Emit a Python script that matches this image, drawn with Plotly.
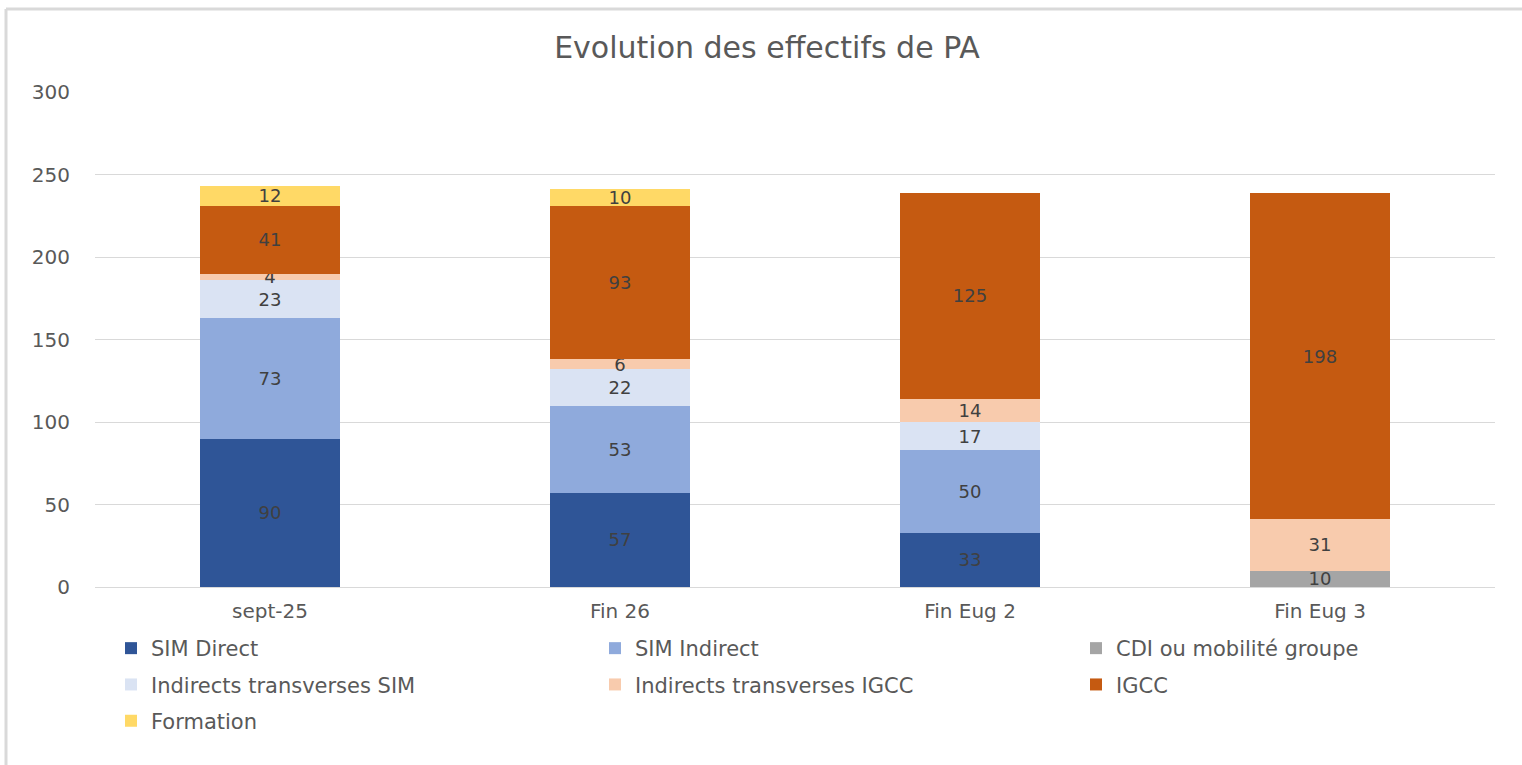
import plotly.graph_objects as go

categories = ["sept-25", "Fin 26", "Fin Eug 2", "Fin Eug 3"]

sim_direct = [90, 57, 33, 0]
sim_indirect = [73, 53, 50, 0]
cdi_mobilite = [0, 0, 0, 10]
indirects_sim = [23, 22, 17, 0]
indirects_igcc = [4, 6, 14, 31]
igcc = [41, 93, 125, 198]
formation = [12, 10, 0, 0]

series_names = [
    "SIM Direct", "SIM Indirect", "CDI ou mobilité groupe",
    "Indirects transverses SIM", "Indirects transverses IGCC", "IGCC", "Formation",
]
series_values = [sim_direct, sim_indirect, cdi_mobilite, indirects_sim,
                 indirects_igcc, igcc, formation]
series_colors = ["#2F5597", "#8FAADC", "#A5A5A5", "#DAE3F3", "#F8CBAD", "#C55A11", "#FFD966"]
# legend columns (reference shows a 3-column legend)
legend_ids = ["legend", "legend2", "legend3", "legend", "legend2", "legend3", "legend"]

y_ticks = [0, 50, 100, 150, 200, 250, 300]

FONT = "DejaVu Sans"
TXT = "#595959"

fig = go.Figure()
for i, (name, vals, col, lg) in enumerate(zip(series_names, series_values, series_colors, legend_ids)):
    fig.add_trace(go.Bar(
        name=name, x=categories, y=vals,
        marker=dict(color=col, line=dict(width=0)),
        text=[str(v) if v else "" for v in vals],
        textposition="inside", insidetextanchor="middle",
        constraintext="none", textangle=0,
        textfont=dict(family=FONT, size=18, color="#404040"),
        legend=lg, legendgroup=f"g{i}",
    ))

# plot-area geometry in pixels (for frame shapes in paper coords)
W, H = 1522, 765
L, R, T, B = 95, 27, 92, 178
pw, ph = W - L - R, H - T - B

def px_x(x):
    return (x - L) / pw

def px_y(y):
    return (H - B - y) / ph

legend_common = dict(
    orientation="v", xanchor="left", yanchor="top",
    font=dict(family=FONT, size=21, color=TXT),
    traceorder="grouped", tracegroupgap=6,
    bgcolor="rgba(0,0,0,0)", itemclick=False, itemdoubleclick=False,
)
legend_top = 628

fig.update_layout(
    width=W, height=H,
    barmode="stack", bargap=0.6,
    plot_bgcolor="white", paper_bgcolor="white",
    margin=dict(l=L, r=R, t=T, b=B),
    title=dict(text="Evolution des effectifs de PA", x=767 / W, xanchor="center",
               y=1 - 47 / H, yanchor="middle", xref="container", yref="container",
               font=dict(family=FONT, size=30, color=TXT)),
    xaxis=dict(showgrid=False, showline=False, ticks="",
               tickfont=dict(family=FONT, size=20, color=TXT),
               ticklabelstandoff=10),
    yaxis=dict(range=[0, 300], tickvals=y_ticks, showgrid=True, gridcolor="#D9D9D9",
               gridwidth=1, zeroline=True, zerolinecolor="#D9D9D9", zerolinewidth=1,
               showline=False, ticks="",
               tickfont=dict(family=FONT, size=20, color=TXT),
               ticklabelstandoff=24),
    legend=dict(x=px_x(111), y=px_y(legend_top), **legend_common),
    legend2=dict(x=px_x(595), y=px_y(legend_top), **legend_common),
    legend3=dict(x=px_x(1076), y=px_y(legend_top), **legend_common),
    showlegend=True,
    shapes=[
        dict(type="line", xref="paper", yref="paper", x0=px_x(6), x1=px_x(W + 5),
             y0=px_y(9), y1=px_y(9), line=dict(color="#D9D9D9", width=3)),
        dict(type="line", xref="paper", yref="paper", x0=px_x(6), x1=px_x(6),
             y0=px_y(9), y1=px_y(H + 5), line=dict(color="#D9D9D9", width=3)),
    ],
)

fig.write_html("out.html", config={"displayModeBar": False},
               post_script="document.body.style.margin='0';")
